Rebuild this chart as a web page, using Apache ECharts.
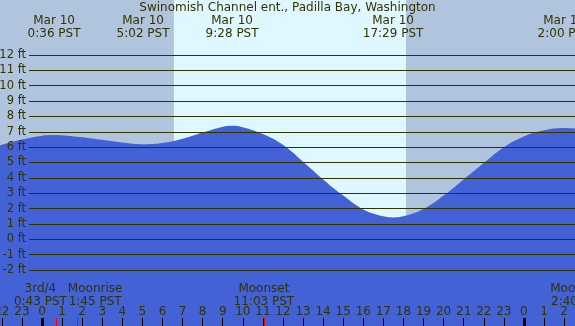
<!DOCTYPE html>
<html>
<head>
<meta charset="utf-8">
<script src="https://cdn.jsdelivr.net/npm/echarts@6/dist/echarts.min.js"></script>
<style>
  html, body { margin: 0; padding: 0; }
  #main { width: 575px; height: 326px; }
</style>
</head>
<body>
<div id="main"></div>
<script>
// tide height (ft), hours from midnight Mar 10
var tideHours = [-3, -2, -1, 0, 0.6, 1, 2, 3, 4, 5.03, 6, 7, 8, 9, 9.47, 10, 11, 12, 13, 14, 15, 16, 17, 17.48, 18, 19, 20, 21, 22, 23, 24, 25, 26, 27];
var tideFeet  = [5.75, 6.15, 6.5, 6.75, 6.8, 6.78, 6.65, 6.48, 6.3, 6.19, 6.27, 6.55, 6.95, 7.33, 7.4, 7.3, 6.85, 6.15, 5.05, 3.9, 2.85, 1.95, 1.5, 1.43, 1.5, 1.97, 2.85, 3.9, 4.97, 6.0, 6.7, 7.1, 7.25, 7.15];

// high / low labels along the top
var extremeHours  = [0.6, 5.033, 9.467, 17.483, 26.0];
var extremeLabels = ['Mar 10\n0:36 PST', 'Mar 10\n5:02 PST', 'Mar 10\n9:28 PST', 'Mar 10\n17:29 PST', 'Mar 11\n2:00 PST'];

// moon events along the bottom
var moonHours  = [0.717, 1.75, 11.05, 26.667];
var moonLabels = ['3rd/4\n0:43 PST', 'Moonrise\n1:45 PST', 'Moonset\n11:03 PST', 'Moonrise\n2:40 PST'];
var moonLabelShift = [-16, 18, 0, 0];

var sunrise = 6.57, sunset = 18.13;
var midnights = [0, 24];

var ink = '#333300';
var font = 'DejaVu Sans';

var myChart = echarts.init(document.getElementById('main'));

function tickAxis(values, color, width) {
    return {
        type: 'value', gridIndex: 0, min: -3, max: 27, position: 'bottom', z: 6,
        splitLine: { show: false },
        axisLine: { show: false, onZero: false },
        axisLabel: { show: false },
        axisTick: { inside: true, length: 8, customValues: values, lineStyle: { color: color, width: width } }
    };
}

var option = {
    backgroundColor: '#B0C4DE',
    animation: false,
    title: {
        text: 'Swinomish Channel ent., Padilla Bay, Washington',
        left: 'center',
        top: 1.5,
        padding: 0,
        textStyle: { fontFamily: font, fontSize: 12, fontWeight: 'normal', color: ink }
    },
    grid: [
        { left: -18.24, right: -9.16, top: 0, bottom: 0, outerBoundsMode: 'none', containLabel: false },
        { left: 29, right: 0, top: 55, bottom: 56, outerBoundsMode: 'none', containLabel: false }
    ],
    xAxis: [
        {
            type: 'value', gridIndex: 0, min: -3, max: 27, interval: 1, position: 'bottom', z: 5,
            splitLine: { show: false },
            axisLine: { show: false, onZero: false },
            axisTick: { inside: true, length: 8, lineStyle: { color: '#000', width: 1 } },
            axisLabel: {
                inside: true, margin: 8, color: ink, fontFamily: font, fontSize: 12,
                showMinLabel: true, showMaxLabel: true, hideOverlap: false,
                formatter: function (v) { return String(((v % 24) + 24) % 24); }
            }
        },
        { type: 'value', gridIndex: 1, min: 0, max: 1, show: false },
        tickAxis(midnights, '#000', 3),
        tickAxis(moonHours, '#ff0000', 1)
    ],
    yAxis: [
        { type: 'value', gridIndex: 0, min: -5.64, max: 15.58, show: false },
        {
            type: 'value', gridIndex: 1, min: -2, max: 12, interval: 1, z: 5,
            axisLine: { show: false },
            axisTick: { show: false },
            splitLine: { lineStyle: { color: ink, width: 1 } },
            axisLabel: { margin: 3, color: ink, fontFamily: font, fontSize: 11.5, formatter: '{value} ft' }
        }
    ],
    series: [
        {
            name: 'tide',
            type: 'line',
            xAxisIndex: 0,
            yAxisIndex: 0,
            z: 2,
            smooth: 0.4,
            showSymbol: false,
            lineStyle: { width: 0 },
            areaStyle: { color: '#4262D6', opacity: 1, origin: 'start' },
            data: tideHours.map(function (h, i) { return [h, tideFeet[i]]; }),
            markArea: {
                silent: true,
                z: 1,
                itemStyle: { color: '#DFF8FF' },
                data: [[{ xAxis: sunrise }, { xAxis: sunset }]]
            }
        }
    ]
};

myChart.setOption(option);

// text labels for tide extremes and moon events, placed through the x axis
var texts = [];
extremeHours.forEach(function (h, i) {
    var x = myChart.convertToPixel({ xAxisIndex: 0 }, h);
    texts.push({
        type: 'text', x: x, y: 27, z: 10,
        style: { text: extremeLabels[i], align: 'center', verticalAlign: 'middle',
                 font: '12px "' + font + '"', lineHeight: 13, fill: ink }
    });
});
moonHours.forEach(function (h, i) {
    var x = myChart.convertToPixel({ xAxisIndex: 0 }, h) + moonLabelShift[i];
    texts.push({
        type: 'text', x: x, y: 295, z: 10,
        style: { text: moonLabels[i], align: 'center', verticalAlign: 'middle',
                 font: '12px "' + font + '"', lineHeight: 13, fill: ink }
    });
});
myChart.setOption({ graphic: texts });
</script>
</body>
</html>
